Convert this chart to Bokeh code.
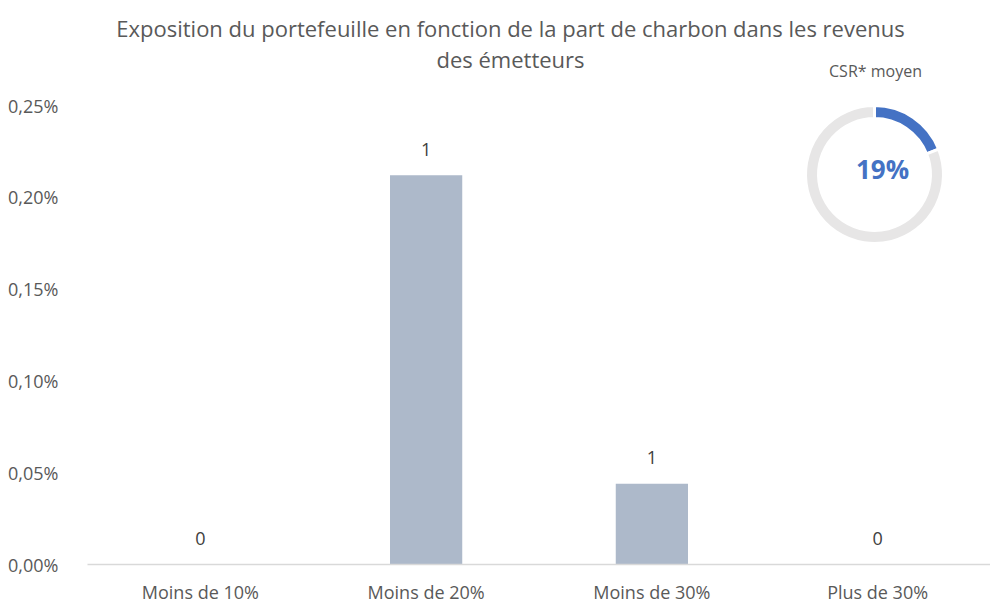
import math
from bokeh.plotting import figure
from bokeh.models import Range1d, FixedTicker, ColumnDataSource
from bokeh.core.properties import value
from bokeh.embed import file_html
from bokeh.resources import INLINE

# ---- data ----
categories = ["Moins de 10%", "Moins de 20%", "Moins de 30%", "Plus de 30%"]
exposure_pct = [0.0, 0.212, 0.044, 0.0]      # % du portefeuille
issuer_counts = [0, 1, 1, 0]                 # nombre d'émetteurs
y_ticks = [0.0, 0.05, 0.10, 0.15, 0.20, 0.25]
y_tick_labels = ["0,00%", "0,05%", "0,10%", "0,15%", "0,20%", "0,25%"]
csr_moyen = 0.19
title_lines = ["Exposition du portefeuille en fonction de la part de charbon dans les revenus",
               "des émetteurs"]
donut_title = "CSR* moyen"

FONT = "Open Sans"
FW, FH = 903, 564          # frame in pixels (frame spans to top of canvas)
AXIS_H = 459               # pixel height of the 0..0.25 span
xpos = list(range(len(categories)))

p = figure(x_range=Range1d(-0.5, len(categories) - 0.5),
           y_range=Range1d(0, max(y_ticks) * FH / AXIS_H),
           frame_width=FW, frame_height=FH,
           min_border_left=87, min_border_right=0, min_border_top=0, min_border_bottom=38,
           output_backend="svg", toolbar_location=None)
p.outline_line_color = None
p.xgrid.grid_line_color = None
p.ygrid.grid_line_color = None
p.background_fill_color = "white"
p.border_fill_color = "white"

# pixel helper ranges (x from frame left, y from canvas top) for donut / texts
p.extra_x_ranges = {"px": Range1d(0, FW)}
p.extra_y_ranges = {"px": Range1d(FH, 0)}

src = ColumnDataSource(dict(x=xpos, val=exposure_pct,
                            lab=[str(c) for c in issuer_counts]))
p.vbar(x="x", top="val", width=0.32, source=src, color="#ADB9CA", line_color=None)
p.text(x="x", y="val", text="lab", source=src, text_align="center", text_baseline="alphabetic",
       y_offset=-26, text_font=value(FONT), text_font_size="18px", text_color="#404040")

# axes
p.yaxis.ticker = FixedTicker(ticks=y_ticks)
p.yaxis.major_label_overrides = dict(zip(y_ticks, y_tick_labels))
p.yaxis.axis_line_color = None
p.yaxis.major_tick_line_color = None
p.yaxis.minor_tick_line_color = None
p.yaxis.major_label_standoff = 23
p.yaxis.major_label_text_font = FONT
p.yaxis.major_label_text_font_size = "18px"
p.yaxis.major_label_text_color = "#595959"

p.xaxis.ticker = FixedTicker(ticks=xpos)
p.xaxis.major_label_overrides = dict(zip(xpos, categories))
p.xaxis.axis_line_color = "#D9D9D9"
p.xaxis.axis_line_width = 1.5
p.xaxis.major_tick_line_color = None
p.xaxis.minor_tick_line_color = None
p.xaxis.major_label_standoff = 9
p.xaxis.major_label_text_font = FONT
p.xaxis.major_label_text_font_size = "18px"
p.xaxis.major_label_text_color = "#595959"

# donut
cx, cy = 787, 174
a0 = math.pi / 2
a1 = a0 - 2 * math.pi * csr_moyen
a2 = a0 - 2 * math.pi
dsrc = ColumnDataSource(dict(x=[cx, cx], y=[cy, cy], s=[a0, a1], e=[a1, a2],
                             c=["#4472C4", "#E7E6E6"]))
p.annular_wedge(x="x", y="y", inner_radius=56, outer_radius=69,
                inner_radius_units="screen", outer_radius_units="screen",
                start_angle="s", end_angle="e", direction="clock",
                fill_color="c", line_color="white", line_width=3, source=dsrc,
                x_range_name="px", y_range_name="px")

txt = dict(x_range_name="px", y_range_name="px", text_align="center", text_baseline="middle",
           text_font=value(FONT))
p.text(x=[cx + 8], y=[cy - 6], text=[f"{round(csr_moyen*100)}%"], text_font_size="26px",
       text_font_style="bold", text_color="#4472C4", **txt)
p.text(x=[cx + 1], y=[70], text=[donut_title], text_font_size="16px",
       text_color="#595959", **txt)

# title
p.text(x=[423, 423], y=[27, 58], text=title_lines, text_font_size="22px",
       text_color="#595959", **txt)

open("out.html", "w").write(file_html(p, INLINE))
